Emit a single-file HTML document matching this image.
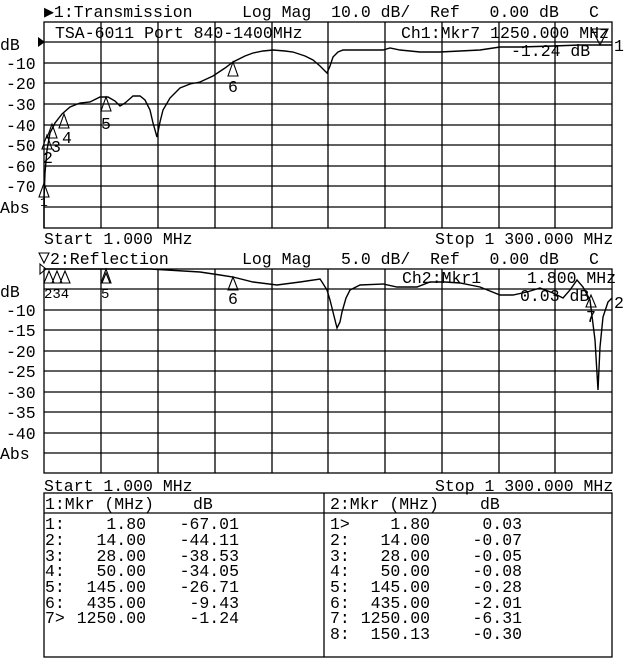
<!DOCTYPE html>
<html><head><meta charset="utf-8"><style>
html,body{margin:0;padding:0;background:#fff;}
svg{display:block;}
text{font-family:"Liberation Mono",monospace;font-size:16.5px;fill:#000;white-space:pre;}
.g line{stroke:#000;stroke-width:1.3;}
.tr{fill:none;stroke:#000;stroke-width:1.4;}
.mk{fill:none;stroke:#000;stroke-width:1.1;}
</style></head><body>
<svg width="640" height="659" viewBox="0 0 640 659" xmlns="http://www.w3.org/2000/svg" xml:space="preserve">
<g class="g">
<rect x="44" y="22" width="568" height="206" fill="none" stroke="#000" stroke-width="1.3"/>
<line x1="44" y1="42" x2="612" y2="42"/><line x1="44" y1="63" x2="612" y2="63"/><line x1="44" y1="83" x2="612" y2="83"/><line x1="44" y1="104" x2="612" y2="104"/><line x1="44" y1="125" x2="612" y2="125"/><line x1="44" y1="145" x2="612" y2="145"/><line x1="44" y1="166" x2="612" y2="166"/><line x1="44" y1="186" x2="612" y2="186"/><line x1="44" y1="207" x2="612" y2="207"/>
<line x1="101" y1="22" x2="101" y2="228"/><line x1="158" y1="22" x2="158" y2="228"/><line x1="215" y1="22" x2="215" y2="228"/><line x1="272" y1="22" x2="272" y2="228"/><line x1="328" y1="22" x2="328" y2="228"/><line x1="385" y1="22" x2="385" y2="228"/><line x1="442" y1="22" x2="442" y2="228"/><line x1="499" y1="22" x2="499" y2="228"/><line x1="555" y1="22" x2="555" y2="228"/>
</g>
<text x="44" y="17">▶1:Transmission</text>
<text x="242" y="17">Log Mag  10.0 dB/  Ref   0.00 dB</text>
<text x="589" y="17">C</text>
<text x="55" y="38">TSA-6011 Port 840-1400MHz</text>
<text x="401" y="38">Ch1:Mkr7 1250.000 MHz</text>
<text x="511" y="56">-1.24 dB</text>
<text x="614" y="51">1</text>
<polygon points="38,37 45,42 38,47" fill="#000"/>
<text x="0" y="50">dB</text>
<text x="6" y="69">-10</text><text x="6" y="89">-20</text><text x="6" y="110">-30</text><text x="6" y="131">-40</text><text x="6" y="151">-50</text><text x="6" y="172">-60</text><text x="6" y="192">-70</text>
<text x="0" y="213">Abs</text>
<text x="44" y="244">Start 1.000 MHz</text>
<text x="435" y="244">Stop 1 300.000 MHz</text>
<polyline class="tr" points="44,228 44,200 45,173 47,150 50,133 55,123 62,114 70,107 80,103 90,102 100,97 108,97 115,101 120,106 125,103 133,96 140,96 145,100 150,110 153,123 157,137 160,122 163,110 170,98 180,88 190,84 200,82 213,76 225,68 233,62 245,56 253,53 263,51 273,50 285,51 293,52 305,56 313,60 320,66 327,73 330,66 333,57 338,52 343,50 360,50 383,50 390,48 400,50 420,52 440,52 460,51 480,50 500,47 520,47 553,46 580,45 600,45 612,45"/>
<g class="mk">
<polygon points="44,183 39,197 49,197"/>
<polygon points="47,135 42,149 52,149"/>
<polygon points="52,124 47,138 57,138"/>
<polygon points="64,114 59,128 69,128"/>
<polygon points="106,97 101,111 111,111"/>
<polygon points="233,62 228,76 238,76"/>
<polygon points="592,29 600,45 608,29"/>
<line x1="600" y1="45" x2="612" y2="45"/>
</g>
<text x="40" y="206" style="font-size:13px">1</text>
<text x="43" y="163">2</text>
<text x="51" y="152">3</text>
<text x="62" y="143">4</text>
<text x="101" y="129">5</text>
<text x="228" y="92">6</text>
<g class="g">
<rect x="44" y="269" width="568" height="204" fill="none" stroke="#000" stroke-width="1.3"/>
<line x1="44" y1="289" x2="612" y2="289"/><line x1="44" y1="310" x2="612" y2="310"/><line x1="44" y1="330" x2="612" y2="330"/><line x1="44" y1="351" x2="612" y2="351"/><line x1="44" y1="371" x2="612" y2="371"/><line x1="44" y1="392" x2="612" y2="392"/><line x1="44" y1="412" x2="612" y2="412"/><line x1="44" y1="433" x2="612" y2="433"/><line x1="44" y1="453" x2="612" y2="453"/>
<line x1="101" y1="269" x2="101" y2="473"/><line x1="158" y1="269" x2="158" y2="473"/><line x1="215" y1="269" x2="215" y2="473"/><line x1="272" y1="269" x2="272" y2="473"/><line x1="328" y1="269" x2="328" y2="473"/><line x1="385" y1="269" x2="385" y2="473"/><line x1="442" y1="269" x2="442" y2="473"/><line x1="499" y1="269" x2="499" y2="473"/><line x1="555" y1="269" x2="555" y2="473"/>
</g>
<polygon class="mk" points="39,253 49,253 44,263"/>
<polygon class="mk" points="40,264 46,269 40,274"/>
<text x="50" y="264">2:Reflection</text>
<text x="242" y="264">Log Mag   5.0 dB/  Ref   0.00 dB</text>
<text x="589" y="264">C</text>
<text x="402" y="283">Ch2:Mkr1</text>
<text x="527" y="283">1.800 MHz</text>
<text x="520" y="301">0.03 dB</text>
<text x="614" y="308">2</text>
<text x="0" y="297">dB</text>
<text x="6" y="316">-10</text><text x="6" y="336">-15</text><text x="6" y="357">-20</text><text x="6" y="377">-25</text><text x="6" y="398">-30</text><text x="6" y="418">-35</text><text x="6" y="439">-40</text>
<text x="0" y="459">Abs</text>
<text x="44" y="491">Start 1.000 MHz</text>
<text x="435" y="491">Stop 1 300.000 MHz</text>
<polyline class="tr" points="44,269 100,269 150,269 167,270 200,272 220,275 233,277 253,282 277,285 300,282 320,279 322,282 327,290 330,300 333,312 337,328 340,322 342,312 346,298 350,290 360,285 383,284 397,287 417,287 430,282 445,282 460,283 480,287 500,295 513,295 527,292 540,288 553,293 563,298 570,290 577,280 583,287 590,300 595,340 598,390 600,347 603,317 608,302 612,298"/>
<g class="mk">
<polygon points="49,271 44,283 54,283"/>
<polygon points="57,271 52,283 62,283"/>
<polygon points="65,271 60,283 70,283"/>
<polygon points="106,269 101,283 111,283"/>
<polygon points="106,273 102,283 110,283"/>
<polygon points="233,277 228,290 238,290"/>
<polygon points="591,295 586,307 596,307"/>
</g>
<text x="44" y="298" style="font-size:14px">234</text>
<text x="101" y="298" style="font-size:14px">5</text>
<text x="228" y="304">6</text>
<text x="586" y="322">7</text>
<rect x="44" y="493" width="568" height="164" fill="none" stroke="#000" stroke-width="1.3"/>
<line x1="44" y1="513" x2="612" y2="513" stroke="#000" stroke-width="1.3"/>
<line x1="324" y1="493" x2="324" y2="657" stroke="#000" stroke-width="1.3"/>
<text x="45" y="509">1:Mkr (MHz)</text><text x="193" y="509">dB</text>
<text x="330" y="509">2:Mkr (MHz)</text><text x="480" y="509">dB</text>
<g>
<text x="45" y="529">1:</text><text x="146" y="529" text-anchor="end">1.80</text><text x="239" y="529" text-anchor="end">-67.01</text>
<text x="45" y="545">2:</text><text x="146" y="545" text-anchor="end">14.00</text><text x="239" y="545" text-anchor="end">-44.11</text>
<text x="45" y="561">3:</text><text x="146" y="561" text-anchor="end">28.00</text><text x="239" y="561" text-anchor="end">-38.53</text>
<text x="45" y="576">4:</text><text x="146" y="576" text-anchor="end">50.00</text><text x="239" y="576" text-anchor="end">-34.05</text>
<text x="45" y="592">5:</text><text x="146" y="592" text-anchor="end">145.00</text><text x="239" y="592" text-anchor="end">-26.71</text>
<text x="45" y="608">6:</text><text x="146" y="608" text-anchor="end">435.00</text><text x="239" y="608" text-anchor="end">-9.43</text>
<text x="45" y="623">7&gt;</text><text x="146" y="623" text-anchor="end">1250.00</text><text x="239" y="623" text-anchor="end">-1.24</text>
<text x="330" y="529">1&gt;</text><text x="430" y="529" text-anchor="end">1.80</text><text x="522" y="529" text-anchor="end">0.03</text>
<text x="330" y="545">2:</text><text x="430" y="545" text-anchor="end">14.00</text><text x="522" y="545" text-anchor="end">-0.07</text>
<text x="330" y="561">3:</text><text x="430" y="561" text-anchor="end">28.00</text><text x="522" y="561" text-anchor="end">-0.05</text>
<text x="330" y="576">4:</text><text x="430" y="576" text-anchor="end">50.00</text><text x="522" y="576" text-anchor="end">-0.08</text>
<text x="330" y="592">5:</text><text x="430" y="592" text-anchor="end">145.00</text><text x="522" y="592" text-anchor="end">-0.28</text>
<text x="330" y="608">6:</text><text x="430" y="608" text-anchor="end">435.00</text><text x="522" y="608" text-anchor="end">-2.01</text>
<text x="330" y="623">7:</text><text x="430" y="623" text-anchor="end">1250.00</text><text x="522" y="623" text-anchor="end">-6.31</text>
<text x="330" y="639">8:</text><text x="430" y="639" text-anchor="end">150.13</text><text x="522" y="639" text-anchor="end">-0.30</text>
</g>
</svg>
</body></html>
